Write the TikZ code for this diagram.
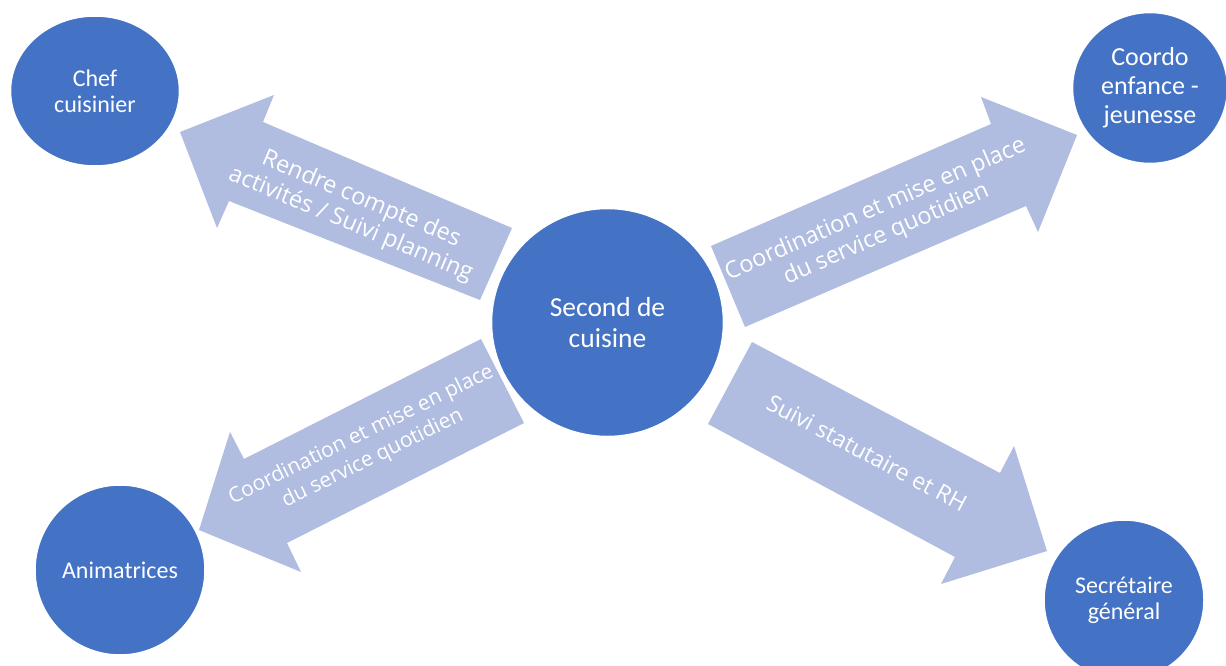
\documentclass[tikz,border=0pt]{standalone}
\usepackage{fontspec}
\setmainfont[Ligatures=NoCommon]{Carlito}
\newfontfamily\labelfont{Open Sans}
\usetikzlibrary{shapes.geometric}
\definecolor{circblue}{RGB}{68,114,196}
\definecolor{arrowblue}{RGB}{176,188,224}
\begin{document}
\begin{tikzpicture}[x=1pt,y=-1pt,
  person/.style={ellipse,fill=circblue,draw=white,line width=2.5pt,text=white,align=center,inner sep=0pt},
  blockarrow/.style={fill=arrowblue,draw=none},
  arrowtext/.style={text=white,align=center,inner sep=0pt}]
\useasboundingbox (0,0) rectangle (1226,666);
% block arrows
\fill[blockarrow] (180,132) -- (274,95) -- (263,122) -- (512,228) -- (480,300) -- (229,201) -- (217,228) -- cycle;
\fill[blockarrow] (1077,135) -- (981,97) -- (991,124) -- (711,246) -- (745,327) -- (1026,206) -- (1038,232) -- cycle;
\fill[blockarrow] (199,530) -- (230,432) -- (244,459) -- (481,339) -- (524,423) -- (287,543) -- (301,572) -- cycle;
\fill[blockarrow] (1047,551) -- (1014,446) -- (1000,473) -- (752,342) -- (708,424) -- (955,557) -- (941,584) -- cycle;
% people
\node[person,minimum width=170pt,minimum height=151pt,font=\fontsize{24}{26}\selectfont] (chef) at (95,91) {Chef\\cuisinier};
\node[person,minimum width=156pt,minimum height=152pt,font=\fontsize{26}{29}\selectfont] (coordo) at (1150,88) {Coordo\\enfance -\\jeunesse};
\node[person,minimum width=233pt,minimum height=229pt,font=\fontsize{27.5}{31}\selectfont] (second) at (607.5,322.5) {Second de\\cuisine};
\node[person,minimum width=171pt,minimum height=171pt,font=\fontsize{24}{26}\selectfont] (anim) at (120,570) {Animatrices};
\node[person,minimum width=161pt,minimum height=161pt,font=\fontsize{24}{26}\selectfont] (secr) at (1124,600) {Secrétaire\\général};
% labels
\node[arrowtext,rotate=-22.8,font=\labelfont\fontsize{23.5}{27}\selectfont] (l1) at (356,212) {Rendre compte des\\activités / Suivi planning};
\node[arrowtext,rotate=23.5,font=\labelfont\fontsize{23.4}{27}\selectfont] (l2) at (881,222) {Coordination et mise en place\\du service quotidien};
\node[arrowtext,rotate=26,font=\labelfont\fontsize{21}{26}\selectfont] (l3) at (367,447) {Coordination et mise en place\\du service quotidien};
\node[arrowtext,rotate=-28,font=\labelfont\fontsize{23}{27}\selectfont] (l4) at (867,453) {Suivi statutaire et RH};
\end{tikzpicture}
\end{document}
